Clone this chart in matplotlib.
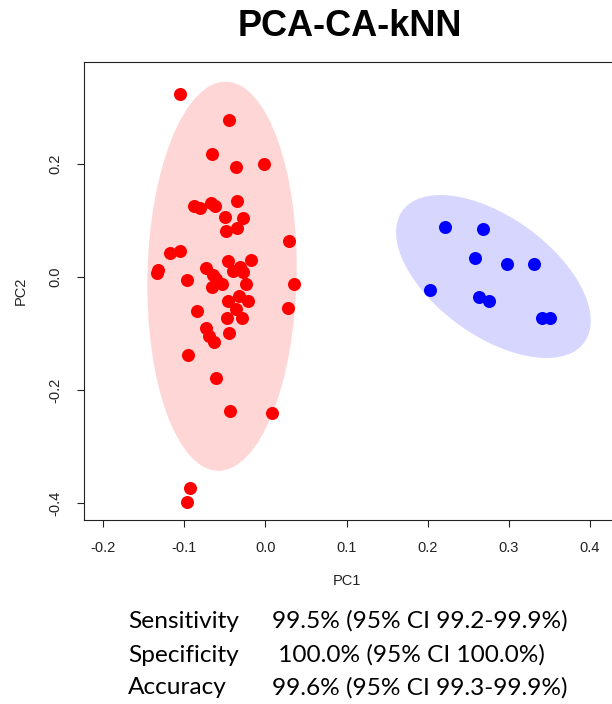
import matplotlib
matplotlib.use("Agg")
import matplotlib.pyplot as plt
from matplotlib.patches import Ellipse

# PCA scores of the two classes
red_pc1 = [-0.1054, -0.0446, -0.0656, -0.0364, -0.0022, -0.0878, -0.0808, -0.0672,
           -0.0623, -0.0355, -0.0499, -0.0274, -0.0487, -0.0351, 0.0293, -0.1178,
           -0.1054, -0.1334, -0.1326, -0.0972, -0.0734, -0.0459, -0.0179, -0.0397,
           -0.0314, -0.0281, -0.0647, -0.0610, -0.0540, -0.0663, -0.0240, 0.0351,
           -0.0459, -0.0323, -0.0212, -0.0848, -0.0364, 0.0274, -0.0478, -0.0293,
           -0.0734, -0.0693, -0.0635, -0.0446, -0.0952, -0.0610, -0.0438, 0.0076,
           -0.0931, -0.0972]
red_pc2 = [0.3234, 0.2779, 0.2172, 0.1952, 0.2005, 0.1262, 0.1216, 0.1315,
           0.1262, 0.1350, 0.1057, 0.1039, 0.0819, 0.0862, 0.0642, 0.0419,
           0.0465, 0.0065, 0.0124, -0.0053, 0.0165, 0.0288, 0.0301, 0.0106,
           0.0172, 0.0094, 0.0035, -0.0035, -0.0124, -0.0177, -0.0124, -0.0124,
           -0.0419, -0.0336, -0.0419, -0.0602, -0.0572, -0.0554, -0.0731, -0.0731,
           -0.0908, -0.1044, -0.1142, -0.0986, -0.1381, -0.1779, -0.2366, -0.2412,
           -0.3740, -0.3988]
blue_pc1 = [0.2217, 0.2678, 0.2587, 0.2982, 0.3307, 0.2028, 0.2629, 0.2760, 0.3406, 0.3508]
blue_pc2 = [0.0890, 0.0855, 0.0342, 0.0230, 0.0230, -0.0230, -0.0349, -0.0419, -0.0731, -0.0731]

# Class ellipses: centre, semi-axes and rotation (data units, degrees)
ellipse_centers = [(-0.0536, 0.0014), (0.2810, 0.0009)]
ellipse_semi_major = [0.3443, 0.1660]
ellipse_semi_minor = [0.0920, 0.0875]
ellipse_angles = [89.23, -54.35]
class_colors = ["#FF0000", "#0000FF"]

x_ticks = [-0.2, -0.1, 0.0, 0.1, 0.2, 0.3, 0.4]
x_tick_labels = ["-0.2", "-0.1", "0.0", "0.1", "0.2", "0.3", "0.4"]
y_ticks = [-0.4, -0.2, 0.0, 0.2]
y_tick_labels = ["-0.4", "-0.2", "0.0", "0.2"]

metric_names = ["Sensitivity", "Specificity", "Accuracy"]
metric_values = ["99.5% (95% CI 99.2-99.9%)", " 100.0% (95% CI 100.0%)", "99.6% (95% CI 99.3-99.9%)"]

plt.rcParams["font.family"] = ["Liberation Sans", "DejaVu Sans"]

W, H = 612, 704
fig = plt.figure(figsize=(W / 100, H / 100), dpi=100)
ax = fig.add_axes([83.8 / W, 1 - 520 / H, (612 - 83.8) / W, (520 - 62.3) / H])
ax.set_xlim(-0.224, 0.4272)
ax.set_ylim(-0.43, 0.38)

for c, a, b, ang, col in zip(ellipse_centers, ellipse_semi_major, ellipse_semi_minor,
                             ellipse_angles, class_colors):
    ax.add_patch(Ellipse(c, 2 * a, 2 * b, angle=ang, facecolor=col, alpha=0.16,
                         edgecolor="none", zorder=1))

ax.scatter(red_pc1, red_pc2, s=88, color=class_colors[0], linewidths=0, zorder=3)
ax.scatter(blue_pc1, blue_pc2, s=88, color=class_colors[1], linewidths=0, zorder=3)

ax.set_xticks(x_ticks)
ax.set_xticklabels(x_tick_labels)
ax.set_yticks(y_ticks)
ax.set_yticklabels(y_tick_labels, rotation=90, va="center")
ax.tick_params(direction="out", length=5.3, width=0.8, pad=10, labelsize=10.5,
               colors="#222222")
for s in ax.spines.values():
    s.set_linewidth(0.8)
    s.set_color("#222222")
ax.spines["right"].set_visible(False)

fig.text(346.6 / W, 1 - 581 / H, "PC1", ha="center", va="center", fontsize=10.5, color="#222222")
fig.text(21 / W, 1 - 291 / H, "PC2", ha="center", va="center", rotation=90,
         fontsize=10.5, color="#222222")
fig.text(349.5 / W, 1 - 26 / H, "PCA-CA-kNN", ha="center", va="center",
         fontsize=26, fontweight="bold", color="black")

line_y = [621, 655, 688]
for name, val, yy in zip(metric_names, metric_values, line_y):
    fig.text(128 / W, 1 - yy / H, name, ha="left", va="center", fontsize=17.6,
             family=["Lato", "DejaVu Sans"], color="black")
    fig.text(272 / W, 1 - yy / H, val, ha="left", va="center", fontsize=17.6,
             family=["Lato", "DejaVu Sans"], color="black")

fig.savefig("out.png", dpi=100)
